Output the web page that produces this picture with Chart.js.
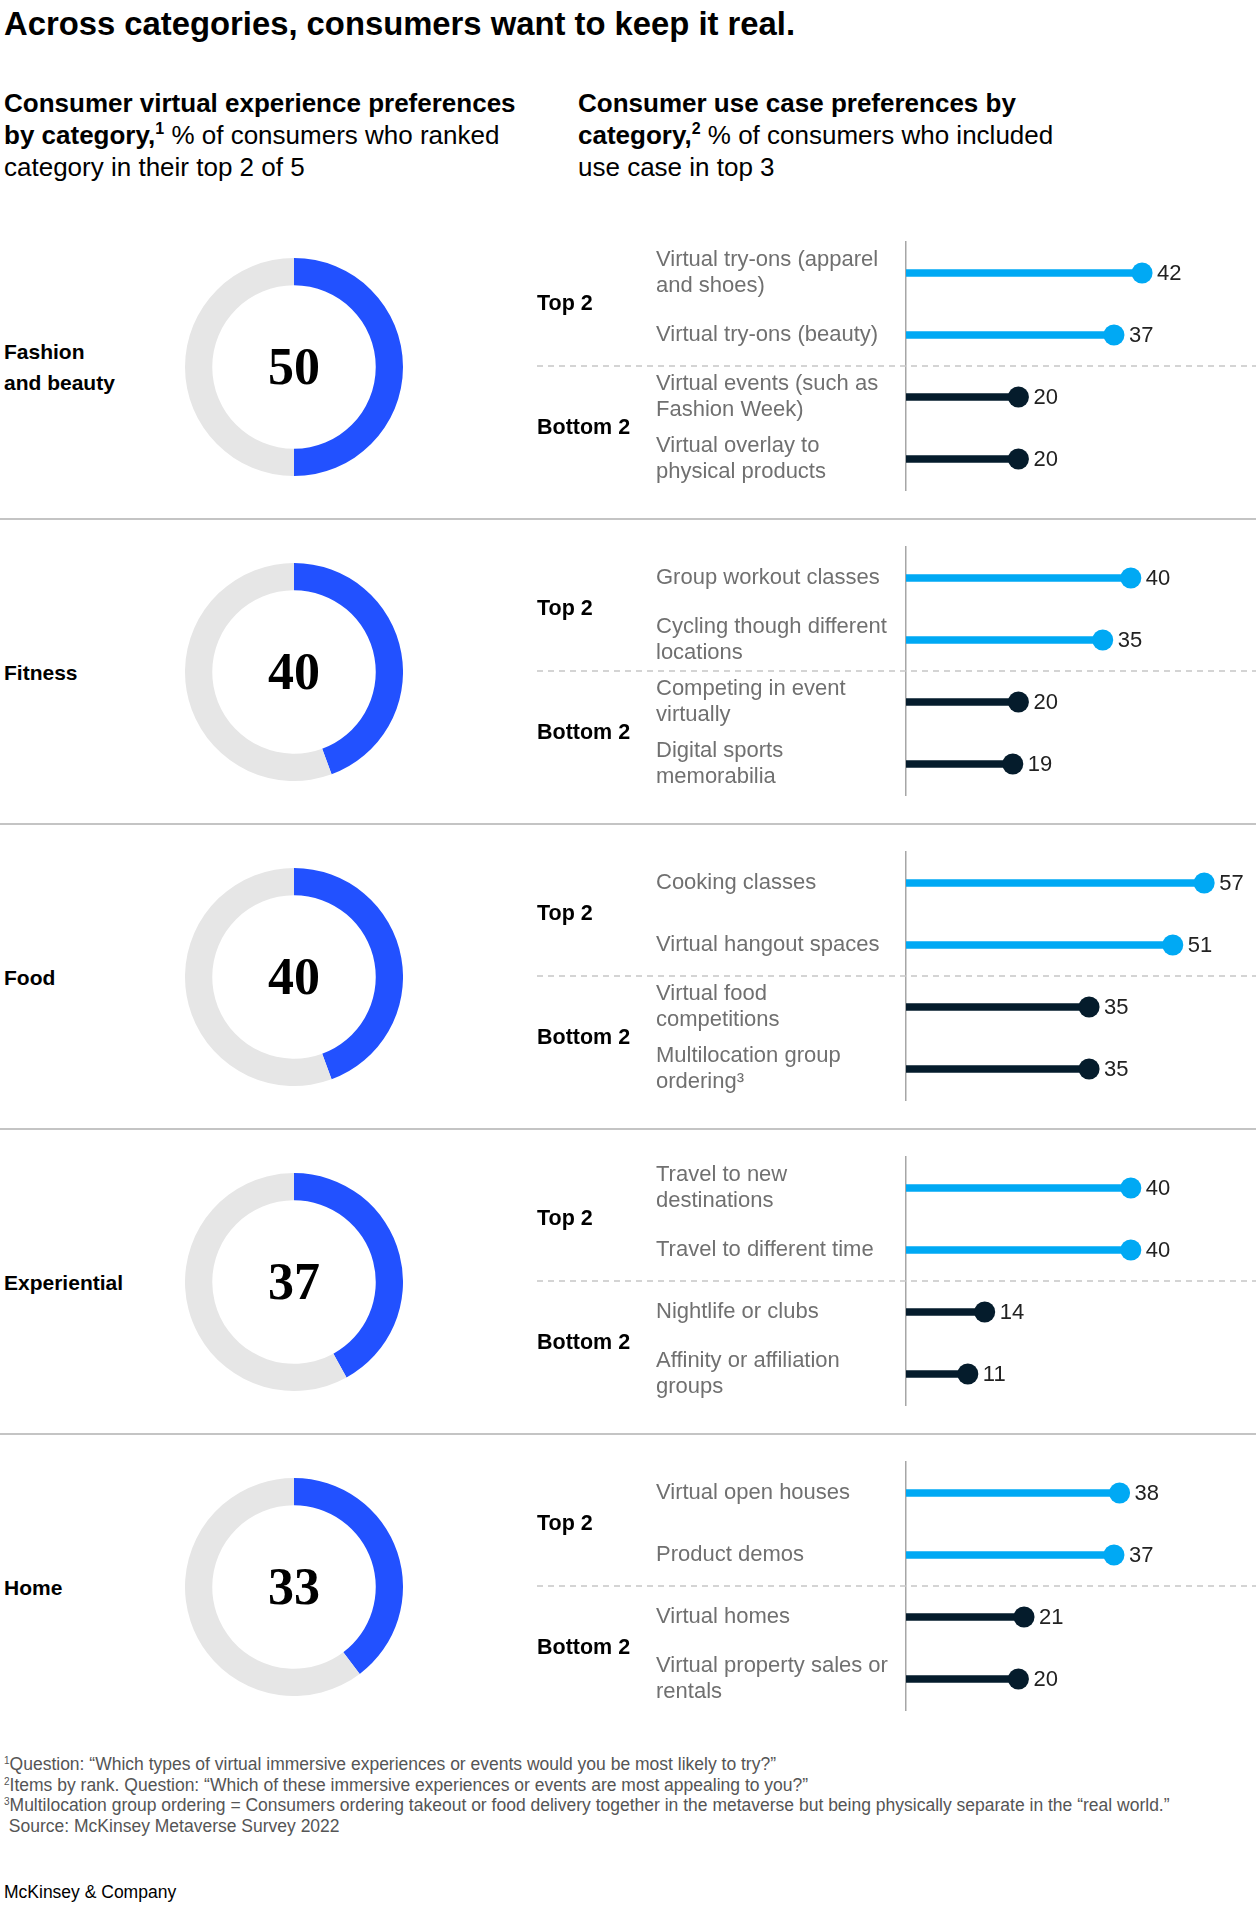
<!DOCTYPE html>
<html>
<head>
<meta charset="utf-8">
<script src="https://cdn.jsdelivr.net/npm/chart.js@4.4.1/dist/chart.umd.min.js"></script>
<style>
  body {
    margin: 0;
    width: 1256px;
    height: 1910px;
    background: #fff;
    font-family: "Liberation Sans", Arial, sans-serif;
    position: relative;
    overflow: hidden;
    color: #000;
  }
  .abs { position: absolute; }
  #title { left: 4px; top: 5px; font-size: 32.8px; line-height: 38px; font-weight: bold; white-space: nowrap; }
  .sub { top: 87px; font-size: 26px; line-height: 32px; white-space: nowrap; }
  .sub b sup { font-size: 16px; vertical-align: 10px; line-height: 0; }
  .cat { left: 4px; font-size: 21px; line-height: 31px; font-weight: bold; transform: translateY(-50%); }
  .sep { left: 0; width: 1256px; height: 2px; background: #c4c4c4; }
  .notes { left: 4px; top: 1754px; font-size: 17.5px; line-height: 20.5px; color: #555; white-space: nowrap; }
  .notes sup { font-size: 10px; vertical-align: 6px; line-height: 0; }
  #brand { left: 4px; top: 1881px; font-size: 17.5px; line-height: 22px; }
  canvas { position: absolute; }
</style>
</head>
<body>
<div id="title" class="abs">Across categories, consumers want to keep it real.</div>
<div class="abs sub" style="left:4px"><b>Consumer virtual experience preferences<br>by category,<sup>1</sup></b> % of consumers who ranked<br>category in their top 2 of 5</div>
<div class="abs sub" style="left:578px"><b>Consumer use case preferences by<br>category,<sup>2</sup></b> % of consumers who included<br>use case in top 3</div>

<div id="rows"></div>

<div class="abs notes">
  <div><sup>1</sup>Question: “Which types of virtual immersive experiences or events would you be most likely to try?”</div>
  <div><sup>2</sup>Items by rank. Question: “Which of these immersive experiences or events are most appealing to you?”</div>
  <div><sup>3</sup>Multilocation group ordering = Consumers ordering takeout or food delivery together in the metaverse but being physically separate in the “real world.”</div>
  <div>&nbsp;Source: McKinsey Metaverse Survey 2022</div>
</div>
<div id="brand" class="abs">McKinsey &amp; Company</div>

<script>
// left side: share of consumers ranking the category top 2 of 5
const categories = [["Fashion", "and beauty"], ["Fitness"], ["Food"], ["Experiential"], ["Home"]];
const donutValues = [50, 40, 40, 37, 33];
// share of the ring that is actually painted blue in the original (read off the arcs,
// they don't follow value/100 exactly)
const ringShares = [50, 44.4, 44.4, 42, 39.7];

// right side: use cases, top 2 then bottom 2, per category
const groupLabels = ["Top 2", "Bottom 2"];
const useCaseLabels = [
    [["Virtual try-ons (apparel", "and shoes)"], "Virtual try-ons (beauty)", ["Virtual events (such as", "Fashion Week)"], ["Virtual overlay to", "physical products"]],
    ["Group workout classes", ["Cycling though different", "locations"], ["Competing in event", "virtually"], ["Digital sports", "memorabilia"]],
    ["Cooking classes", "Virtual hangout spaces", ["Virtual food", "competitions"], ["Multilocation group", "ordering³"]],
    [["Travel to new", "destinations"], "Travel to different time", "Nightlife or clubs", ["Affinity or affiliation", "groups"]],
    ["Virtual open houses", "Product demos", "Virtual homes", ["Virtual property sales or", "rentals"]]
];
const useCaseValues = [
    [42, 37, 20, 20],
    [40, 35, 20, 19],
    [57, 51, 35, 35],
    [40, 40, 14, 11],
    [38, 37, 21, 20]
];
// food panel is drawn on a slightly compressed axis in the original
const axisMax = [60.4, 60.4, 64.9, 60.4, 60.4];

const BLUE = "#2251ff";
const RING_GREY = "#e6e6e6";
const CYAN = "#00a9f4";
const NAVY = "#051c2c";
const FONT = '"Liberation Sans", Arial, sans-serif';

const ROW_STEP = 305;
const rows = document.getElementById("rows");

// number in the middle of the ring
const centerText = {
    id: "centerText",
    afterDraw(chart, args, opts) {
        const { ctx, chartArea } = chart;
        const cx = (chartArea.left + chartArea.right) / 2;
        const cy = (chartArea.top + chartArea.bottom) / 2;
        ctx.save();
        ctx.font = 'bold 52px "Liberation Serif", "DejaVu Serif", serif';
        ctx.fillStyle = "#000";
        ctx.textAlign = "center";
        ctx.textBaseline = "alphabetic";
        ctx.fillText(String(opts.text), cx, cy + 17);
        ctx.restore();
    }
};

// dashed divider, group names and value labels for the lollipops
const lollipopDecor = {
    id: "lollipopDecor",
    beforeDatasetsDraw(chart) {
        const { ctx } = chart;
        const y = chart.scales.y;
        const mid = (y.getPixelForValue(1) + y.getPixelForValue(2)) / 2;
        ctx.save();
        ctx.setLineDash([6, 5]);
        ctx.strokeStyle = "#c6c6c6";
        ctx.lineWidth = 1.5;
        ctx.beginPath();
        ctx.moveTo(7, mid);
        ctx.lineTo(chart.width, mid);
        ctx.stroke();
        ctx.restore();
    },
    afterDatasetsDraw(chart) {
        const { ctx } = chart;
        const y = chart.scales.y;
        const dots = chart.getDatasetMeta(0).data;
        const values = chart.data.datasets[0].data;
        ctx.save();
        ctx.textBaseline = "middle";
        ctx.textAlign = "left";
        ctx.font = "22px " + FONT;
        ctx.fillStyle = "#222";
        dots.forEach((pt, i) => {
            ctx.fillText(String(values[i]), pt.x + 15, pt.y + 1);
        });
        ctx.font = "bold 21.5px " + FONT;
        ctx.fillStyle = "#000";
        groupLabels.forEach((g, gi) => {
            const gy = (y.getPixelForValue(gi * 2) + y.getPixelForValue(gi * 2 + 1)) / 2;
            ctx.fillText(g, 7, gy);
        });
        ctx.restore();
    }
};

categories.forEach((cat, k) => {
    const cy = 367 + ROW_STEP * k;

    // category name
    const label = document.createElement("div");
    label.className = "abs cat";
    label.style.top = cy + "px";
    label.innerHTML = cat.join("<br>");
    rows.appendChild(label);

    // separator below the row
    if (k < categories.length - 1) {
        const sep = document.createElement("div");
        sep.className = "abs sep";
        sep.style.top = (518 + ROW_STEP * k) + "px";
        rows.appendChild(sep);
    }

    // ring
    const ring = document.createElement("canvas");
    ring.width = 218;
    ring.height = 218;
    ring.style.left = (294 - 109) + "px";
    ring.style.top = (cy - 109) + "px";
    rows.appendChild(ring);

    new Chart(ring, {
        type: "doughnut",
        data: {
            labels: ["Ranked top 2", "Other"],
            datasets: [{
                data: [ringShares[k], 100 - ringShares[k]],
                backgroundColor: [BLUE, RING_GREY],
                borderWidth: 0
            }]
        },
        options: {
            responsive: false,
            animation: false,
            events: [],
            cutout: "75%",
            plugins: {
                legend: { display: false },
                tooltip: { enabled: false },
                centerText: { text: donutValues[k] }
            }
        },
        plugins: [centerText]
    });

    // lollipops
    const lolli = document.createElement("canvas");
    lolli.width = 726;
    lolli.height = 320;
    lolli.style.left = "530px";
    lolli.style.top = (206 + ROW_STEP * k) + "px";
    rows.appendChild(lolli);

    const colors = useCaseValues[k].map((v, i) => (i < 2 ? CYAN : NAVY));

    new Chart(lolli, {
        type: "bar",
        data: {
            labels: useCaseLabels[k],
            datasets: [
                {
                    type: "line",
                    indexAxis: "y",
                    data: useCaseValues[k],
                    showLine: false,
                    pointRadius: 10.5,
                    pointHoverRadius: 10.5,
                    pointBackgroundColor: colors,
                    pointBorderWidth: 0,
                    order: 0
                },
                {
                    type: "bar",
                    indexAxis: "y",
                    data: useCaseValues[k],
                    backgroundColor: colors,
                    barThickness: 7,
                    borderWidth: 0,
                    order: 1
                }
            ]
        },
        options: {
            indexAxis: "y",
            responsive: false,
            animation: false,
            events: [],
            layout: { padding: { left: 126, top: 36, bottom: 36, right: 0 } },
            scales: {
                x: { display: false, min: 0, max: axisMax[k] },
                y: {
                    grid: { display: false, drawTicks: false },
                    border: { display: true, color: "#a6a6a6", width: 1.5 },
                    ticks: {
                        crossAlign: "far",
                        padding: 0,
                        color: "#707070",
                        font: { family: FONT, size: 22, lineHeight: 1.18 }
                    },
                    afterFit: (scale) => { scale.width = 250; }
                }
            },
            plugins: {
                legend: { display: false },
                tooltip: { enabled: false }
            }
        },
        plugins: [lollipopDecor]
    });
});
</script>
</body>
</html>
